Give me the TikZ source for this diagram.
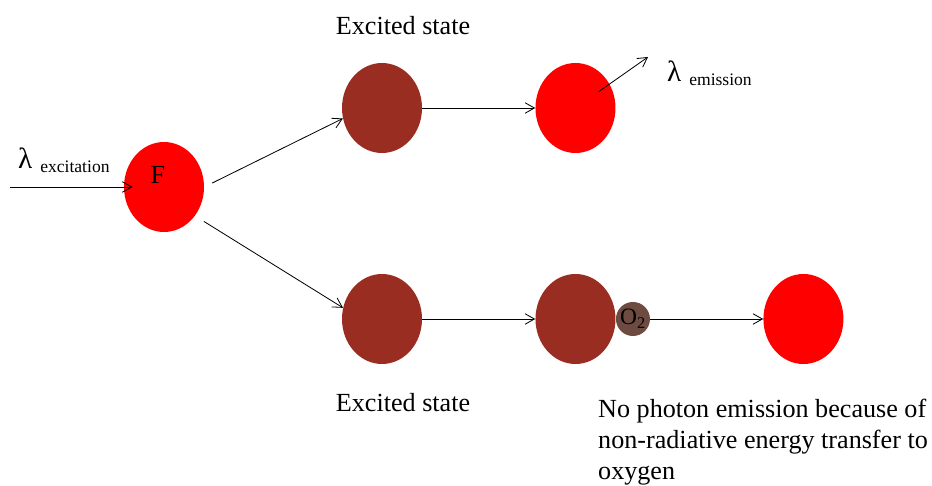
\documentclass[tikz,border=0pt]{standalone}
\usepackage{fontspec}
\setmainfont{Liberation Serif}
\usetikzlibrary{shapes.geometric, arrows.meta, positioning}
\definecolor{exbrown}{RGB}{153,45,33}
\definecolor{oxbrown}{RGB}{110,75,64}

\begin{document}
\begin{tikzpicture}[
    x=0.03cm, y=-0.03cm,
    node distance=3.39cm,
    state/.style={ellipse, fill=red, minimum width=2.4cm, minimum height=2.7cm, inner sep=0pt},
    excited/.style={state, fill=exbrown},
    arrow/.style={-{Straight Barb[length=8pt, width=9pt]}, line width=0.7pt},
    txt/.style={font=\fontsize{22.3}{26.5}\selectfont, inner sep=0pt}
]
    \useasboundingbox (0,0) rectangle (932,486);

    % Nodes
    \node[state, label={[txt, shift={(-6,-12)}]center:F}] (F) at (164,187) {};
    \node[excited] (ex1) at (382,108) {};
    \node[state, right=of ex1] (em1) {};
    \node[excited] (ex2) at (382,319) {};
    \node[excited, right=of ex2] (ex3) {};
    \node[circle, fill=oxbrown, minimum size=1.02cm, inner sep=0pt, font=\fontsize{20}{24}\selectfont, right=0cm of ex3] (O2) {O\textsubscript{2}};
    \node[state, right=of O2] (fin) {};

    % Labels
    \node[txt] (exlbl1) at (403,26) {Excited state};
    \node[txt] (exlbl2) at (403,403) {Excited state};
    \node[txt, anchor=west] (lexc) at (18,160) {{\fontsize{25}{28}\selectfont λ}\hspace{0.3em}\raisebox{-0.35ex}{\fontsize{15}{18}\selectfont excitation}};
    \node[txt, anchor=west] (lem) at (667,73) {{\fontsize{25}{28}\selectfont λ}\hspace{0.3em}\raisebox{-0.35ex}{\fontsize{15}{18}\selectfont emission}};
    \node[txt, anchor=north west, align=left] (note) at (598,399) {No photon emission because of\\non-radiative energy transfer to\\oxygen};

    \coordinate (src) at (10,187);
    \coordinate (emtip) at (648,57);

    % Arrows
    \draw[arrow, shorten >=-7.5pt] (src) -- (F.west);
    \draw[arrow, shorten <=7.5pt] (F.east) -- (ex1.195);
    \draw[arrow, shorten <=9pt] (F.-43) -- (ex2.164);
    \draw[arrow] (ex1) -- (em1);
    \draw[arrow] (ex2) -- (ex3);
    \draw[arrow] (O2) -- (fin);
    \draw[arrow, shorten <=24pt] (em1.center) -- (emtip);
\end{tikzpicture}
\end{document}
